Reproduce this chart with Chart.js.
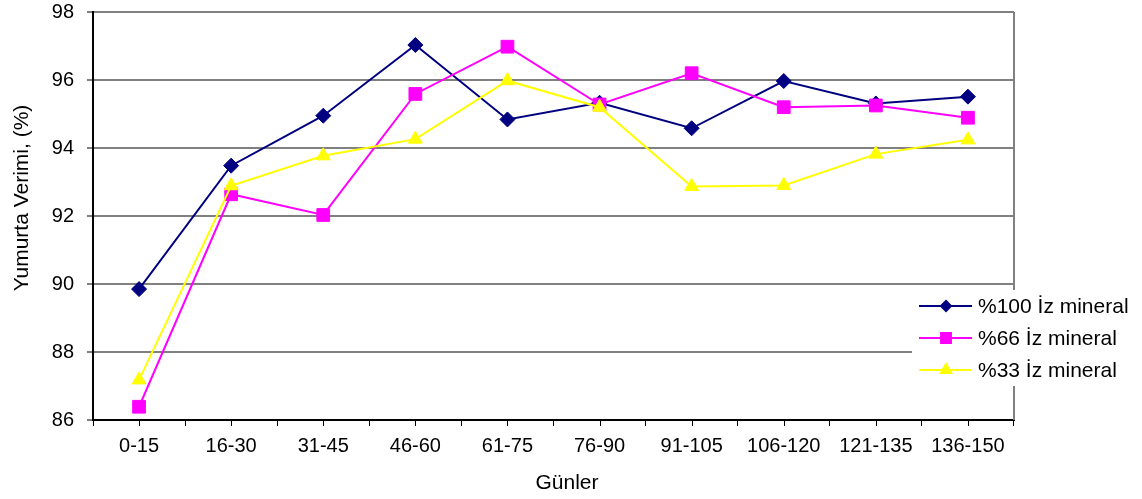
<!DOCTYPE html>
<html><head><meta charset="utf-8">
<script src="https://cdn.jsdelivr.net/npm/chart.js@4/dist/chart.umd.min.js"></script>
<style>html,body{margin:0;padding:0;background:#fff;overflow:hidden}canvas{display:block}</style>
</head><body>
<canvas id="c" width="1142" height="499"></canvas>
<script>
const categories = ['0-15','16-30','31-45','46-60','61-75','76-90','91-105','106-120','121-135','136-150'];
const series100 = [89.85, 93.48, 94.95, 97.03, 94.84, 95.33, 94.58, 95.97, 95.31, 95.51];
const series66  = [86.39, 92.64, 92.03, 95.59, 96.98, 95.28, 96.20, 95.20, 95.25, 94.89];
const series33  = [87.18, 92.89, 93.77, 94.26, 95.98, 95.20, 92.87, 92.90, 93.82, 94.24];
const seriesLabels = ['%100 İz mineral', '%66 İz mineral', '%33 İz mineral'];
const yMin = 86, yMax = 98, yStep = 2;
const xTitle = 'Günler';
const yTitle = 'Yumurta Verimi, (%)';

const FONT = "'Liberation Sans', Arial, sans-serif";
Chart.defaults.font.family = FONT;
Chart.defaults.color = '#000';

const legendPlugin = {
  id: 'customLegend',
  afterDraw(chart) {
    const ctx = chart.ctx;
    ctx.save();
    ctx.fillStyle = '#fff';
    ctx.fillRect(912, 290, 228, 96);
    const ys = [306, 338, 370];
    const radii = [5, 7, 6];
    chart.data.datasets.forEach((ds, i) => {
      const y = ys[i];
      ctx.strokeStyle = ds.borderColor;
      ctx.lineWidth = 2;
      ctx.beginPath();
      ctx.moveTo(919, y); ctx.lineTo(972, y);
      ctx.stroke();
      ctx.fillStyle = ds.backgroundColor;
      ctx.strokeStyle = ds.borderColor;
      Chart.helpers.drawPoint(ctx, {pointStyle: ds.pointStyle, radius: radii[i], rotation: 0, borderWidth: 1}, 946, y);
      ctx.fillStyle = '#000';
      ctx.font = '21px ' + FONT;
      ctx.textBaseline = 'middle';
      ctx.textAlign = 'left';
      ctx.fillText(ds.label, 978, y + 1);
    });
    ctx.restore();
  }
};

const titlesPlugin = {
  id: 'axisTitles',
  afterDraw(chart) {
    const ctx = chart.ctx;
    ctx.save();
    ctx.fillStyle = '#000';
    ctx.font = '21px ' + FONT;
    ctx.textAlign = 'center';
    ctx.textBaseline = 'middle';
    ctx.fillText(xTitle, 567, 483);
    ctx.translate(22, 198);
    ctx.rotate(-Math.PI / 2);
    ctx.fillText(yTitle, 0, 0);
    ctx.restore();
  }
};

const tickPlugin = {
  id: 'centerTicks',
  afterDraw(chart) {
    const xs = chart.scales.x;
    const ctx = chart.ctx;
    ctx.save();
    ctx.strokeStyle = '#000';
    ctx.lineWidth = 1;
    categories.forEach((c, i) => {
      const x = Math.round(xs.getPixelForValue(i)) + 0.5;
      ctx.beginPath();
      ctx.moveTo(x, xs.top); ctx.lineTo(x, xs.top + 6);
      ctx.stroke();
    });
    ctx.restore();
  }
};

const rightBorder = {
  id: 'rightBorder',
  beforeDatasetsDraw(chart) {
    const a = chart.chartArea, ctx = chart.ctx;
    ctx.save();
    ctx.strokeStyle = '#808080';
    ctx.lineWidth = 2;
    ctx.beginPath();
    ctx.moveTo(a.right, a.top); ctx.lineTo(a.right, a.bottom);
    ctx.stroke();
    ctx.restore();
  }
};

new Chart(document.getElementById('c'), {
  type: 'line',
  data: {
    labels: categories,
    datasets: [
      {label: seriesLabels[0], data: series100, borderColor: '#000080', backgroundColor: '#000080',
       pointStyle: 'rectRot', pointRadius: 7.5, pointBorderWidth: 1, borderWidth: 2, order: 3, tension: 0},
      {label: seriesLabels[1], data: series66, borderColor: '#FF00FF', backgroundColor: '#FF00FF',
       pointStyle: 'rect', pointRadius: 9, pointBorderWidth: 1, borderWidth: 2, order: 2, tension: 0},
      {label: seriesLabels[2], data: series33, borderColor: '#FFFF00', backgroundColor: '#FFFF00',
       pointStyle: 'triangle', pointRadius: 8, pointBorderWidth: 1, borderWidth: 2, order: 1, tension: 0}
    ]
  },
  options: {
    responsive: false,
    animation: false,
    devicePixelRatio: 1,
    layout: {padding: {left: 0, right: 128, top: 12, bottom: 0}},
    plugins: {legend: {display: false}, tooltip: {enabled: false}},
    scales: {
      x: {
        offset: true,
        grid: {offset: true, drawOnChartArea: false, drawTicks: true, tickLength: 6, color: '#000', lineWidth: 1},
        border: {color: '#000', width: 2},
        ticks: {font: {size: 20}, padding: 8, maxRotation: 0, autoSkip: false, color: '#000'},
        afterFit(s) { s.height = 79; s.paddingLeft = 0; s.paddingRight = 0; }
      },
      y: {
        min: yMin, max: yMax,
        ticks: {stepSize: yStep, font: {size: 20}, padding: 13, color: '#000'},
        grid: {color: '#808080', lineWidth: 2, tickLength: 6},
        border: {color: '#000', width: 2},
        afterFit(s) { s.width = 93; s.paddingTop = 0; s.paddingBottom = 0; }
      }
    }
  },
  plugins: [rightBorder, tickPlugin, titlesPlugin, legendPlugin]
});
</script>
</body></html>
